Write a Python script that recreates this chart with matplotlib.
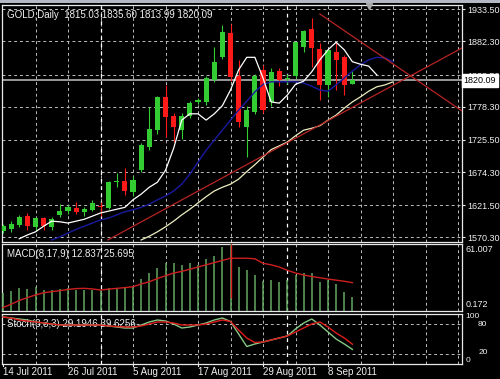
import matplotlib
matplotlib.use('Agg')
import matplotlib.pyplot as plt
import matplotlib.transforms as mtransforms
from matplotlib.patches import Rectangle
import numpy as np

plt.rcParams['font.family'] = ['Liberation Sans', 'DejaVu Sans']

# ---------------- data ----------------
date_labels = ['14 Jul 2011', '26 Jul 2011', '5 Aug 2011', '17 Aug 2011', '29 Aug 2011', '8 Sep 2011']
date_positions = [0, 8, 16, 24, 32, 40]

opens = [1580, 1584, 1590, 1604, 1586, 1601, 1587, 1606, 1612, 1617, 1611, 1613, 1620, 1617, 1658,
         1660, 1643, 1677, 1714, 1741, 1794, 1764, 1741, 1764, 1786, 1786, 1821, 1857, 1896, 1827,
         1746, 1770, 1837, 1786, 1835, 1822, 1827, 1874, 1902, 1870, 1813, 1866, 1858, 1815.03]
highs = [1591, 1596, 1606, 1609, 1603, 1603, 1603, 1623, 1621, 1627, 1619, 1630, 1627, 1660, 1673,
         1681, 1668, 1720, 1778, 1796, 1813, 1768, 1768, 1787, 1792, 1827, 1873, 1909, 1910, 1853,
         1780, 1830, 1845, 1840, 1840, 1830, 1882, 1900, 1920, 1880, 1869, 1881, 1861, 1835.60]
lows = [1577, 1578, 1586, 1582, 1580, 1582, 1582, 1602, 1608, 1607, 1605, 1612, 1605, 1615, 1650,
        1638, 1636, 1675, 1709, 1735, 1730, 1722, 1727, 1760, 1782, 1781, 1818, 1854, 1820, 1746,
        1698, 1766, 1768, 1780, 1812, 1815, 1824, 1866, 1842, 1789, 1794, 1805, 1797, 1813.99]
closes = [1588, 1592, 1603, 1588, 1601, 1588, 1600, 1612, 1618, 1610, 1616, 1625, 1619, 1658, 1660,
          1644, 1662, 1717, 1743, 1794, 1762, 1746, 1764, 1785, 1789, 1824, 1850, 1897, 1826, 1754,
          1773, 1827, 1773, 1834, 1821, 1824, 1881, 1899, 1872, 1813, 1868, 1853, 1813, 1820.09]

price_ticks = [1570.30, 1621.50, 1674.30, 1725.50, 1778.30, 1828.50, 1882.30, 1933.50]
last_price = 1820.09
title_text = 'GOLD,Daily  1815.03 1835.60 1813.99 1820.09'

white_ma_start = 2
white_ma = [1568, 1574, 1579, 1588, 1596, 1595, 1593, 1596, 1599, 1604, 1609, 1612, 1615, 1618,
            1630, 1639, 1650, 1658, 1677, 1712, 1757, 1767, 1767, 1757, 1767, 1780, 1805, 1837,
            1857, 1857, 1824, 1786, 1784, 1797, 1814, 1819, 1834, 1853, 1869, 1881, 1869, 1850,
            1846, 1843, 1829]
blue_ma_start = 6
blue_ma = [1566, 1571, 1577, 1583, 1588, 1593, 1598, 1601, 1606, 1611, 1614, 1618, 1623, 1630,
           1636, 1644, 1655, 1671, 1690, 1709, 1725, 1741, 1757, 1773, 1787, 1802, 1814, 1818,
           1818, 1818, 1818, 1816, 1811, 1805, 1803, 1813, 1824, 1835, 1845, 1853, 1857, 1856, 1850]
cream_ma_start = 17
cream_ma = [1566, 1572, 1579, 1587, 1596, 1606, 1615, 1625, 1635, 1644, 1650, 1655, 1663, 1675,
            1686, 1698, 1710, 1716, 1722, 1732, 1741, 1744, 1748, 1757, 1765, 1776, 1786, 1794,
            1803, 1810, 1813, 1818]

trend_up_x = [12.9, 56.5]
trend_up_y = [1566, 1872]
trend_down_x = [39.0, 56.5]
trend_down_y = [1926, 1771.5]

macd_hist = [16.0, 18.1, 20.5, 19.6, 21.5, 19.0, 19.0, 19.6, 20.5, 19.0, 19.0, 19.0, 19.0, 21.1,
             21.1, 22.0, 22.0, 28.7, 34.2, 39.4, 43.4, 43.4, 41.8, 43.4, 41.8, 47.0, 50.3, 58.0,
             61.0, 40.3, 37.3, 32.7, 27.5, 28.1, 26.6, 28.1, 32.7, 34.2, 34.2, 26.6, 28.1, 24.2,
             17.4, 12.837]
macd_signal = [3, 6, 9.5, 12, 14.5, 16.5, 17.5, 18.4, 19.5, 20.3, 20.5, 20, 19, 19.8, 20.5, 21.2,
               22, 24.5, 26.5, 29.5, 32, 34.5, 36, 38, 40, 42, 44, 46, 48, 48, 48, 47.5, 43.4, 42,
               40, 37, 34.5, 32.7, 31.3, 30.2, 29, 28, 27, 25.695]
macd_max, macd_min = 61.007, -0.172
macd_mark_idx = 28
macd_mark_low = 11.7

stoch_k = [94, 92, 90, 88, 84, 82, 80, 78, 78, 78, 78, 78, 78, 76, 74, 72, 72, 78, 84, 88, 86, 80,
           72, 74, 78, 82, 88, 92, 85, 60, 35, 40, 44, 48, 52, 56, 70, 82, 90, 78, 64, 50, 40,
           29.1946]
stoch_d = [94, 92, 88, 86, 84, 82, 80, 78, 78, 78, 78, 78, 78, 76, 75, 74, 74, 76, 80, 84, 84, 82,
           78, 78, 78, 80, 84, 88, 85, 68, 52, 43, 44, 48, 52, 56, 64, 72, 80, 84, 74, 62, 52,
           39.6256]
stoch_levels = [20, 80]

separators = [12, 35]
grid_x = list(range(4, 57, 4))
shift_marker_idx = 45

# ---------------- style ----------------
BG = 'black'
TXT = '#f0f0f0'
GRID = '#bdbdbd'
UP = '#33cc33'
DN = '#ff1a1a'
W, H = 500, 379
XL = (-0.123, 56.49)
FS = 7
FS_AX = 6.5

fig = plt.figure(figsize=(W / 100, H / 100), dpi=100, facecolor=BG)


def rect(x0, y0, x1, y1):
    return [x0 / W, 1 - y1 / H, (x1 - x0) / W, (y1 - y0) / H]


ax = fig.add_axes(rect(2, 5, 462, 242))
axm = fig.add_axes(rect(2, 244, 462, 311))
axs = fig.add_axes(rect(2, 313.5, 462, 364))

for a in (ax, axm, axs):
    a.set_facecolor(BG)
    for s in a.spines.values():
        s.set_color('#e8e8e8')
        s.set_linewidth(0.9)
    a.set_xlim(*XL)
    a.set_xticks([])
    a.tick_params(axis='y', which='both', left=False, right=False, labelleft=False,
                  labelright=False)
    for g in grid_x:
        a.axvline(g, color=GRID, lw=0.7, ls=(0, (3, 3)), zorder=0)
    for sp in separators:
        a.axvline(sp, color='white', lw=0.9, ls=(0, (3, 3)), zorder=0)

# ---- main panel ----
x = np.arange(len(closes))
o = np.array(opens); c = np.array(closes); hi = np.array(highs); lo = np.array(lows)
cols = np.where(c >= o, UP, DN)
ax.set_ylim(1562.8, 1940.35)
for p in price_ticks:
    ax.axhline(p, color=GRID, lw=0.7, ls=(0, (3, 3)), zorder=0)
ax.axhline(last_price, color='#9a9a9a', lw=1.4, zorder=1)

ax.vlines(x, lo, hi, colors=cols, lw=0.8, zorder=3)
ax.bar(x, np.maximum(np.abs(c - o), 1.2), bottom=np.minimum(o, c), width=0.62,
       color=cols, zorder=4, linewidth=0)

ax.plot(np.arange(cream_ma_start, cream_ma_start + len(cream_ma)), cream_ma,
        color='#eeeec0', lw=0.9, zorder=5)
ax.plot(np.arange(blue_ma_start, blue_ma_start + len(blue_ma)), blue_ma,
        color='#1a1aa0', lw=1.0, zorder=5)
ax.plot(np.arange(white_ma_start, white_ma_start + len(white_ma)), white_ma,
        color='white', lw=0.9, zorder=5)
ax.plot(trend_up_x, trend_up_y, color='#b82424', lw=0.9, zorder=5)
ax.plot(trend_down_x, trend_down_y, color='#b82424', lw=0.9, zorder=5)

ax.yaxis.tick_right()
ax.set_yticks(price_ticks)
ax.set_yticklabels(['%.2f' % p for p in price_ticks])
ax.tick_params(axis='y', right=True, labelright=True, length=2.5, width=0.8, color='#e8e8e8',
               labelcolor=TXT, labelsize=FS_AX, pad=1)

btrans = mtransforms.blended_transform_factory(ax.transAxes, ax.transData)
ax.text(1.003, last_price, '1820.09', transform=btrans, ha='left', va='center', fontsize=FS_AX,
        color='black', zorder=10,
        bbox=dict(boxstyle='square,pad=0.2', facecolor='white', edgecolor='white'))
ax.text(0.011, 0.958, title_text, transform=ax.transAxes, ha='left', va='center', fontsize=FS,
        color=TXT)
strans = mtransforms.blended_transform_factory(ax.transData, ax.transAxes)
ax.plot([shift_marker_idx], [0.995], marker='v', ms=5, color='#a8a8a8', transform=strans,
        clip_on=False, zorder=6)

# ---- MACD panel ----
axm.set_ylim(macd_min, macd_max)
axm.vlines(x, 0, macd_hist, colors='#62a862', lw=1.1, zorder=3)
axm.plot(x, macd_signal, color='#cc2020', lw=1.0, zorder=4)
axm.vlines(macd_mark_idx, macd_mark_low, macd_max, colors='#e02020', lw=1.0, zorder=4)
axm.text(0.011, 0.85, 'MACD(8,17,9) 12.837 25.695', transform=axm.transAxes, ha='left',
         va='center', fontsize=FS, color=TXT)
axm.text(1.008, 0.92, '%.3f' % macd_max, transform=axm.transAxes, ha='left', va='center',
         fontsize=FS_AX, color=TXT)
axm.text(1.008, 0.09, '%.3f' % abs(macd_min), transform=axm.transAxes, ha='left', va='center',
         fontsize=FS_AX, color=TXT)

# ---- Stochastic panel ----
axs.set_ylim(0, 101)
for lv in stoch_levels:
    axs.axhline(lv, color=GRID, lw=0.7, ls=(0, (3, 3)), zorder=0)
axs.plot(x, stoch_d, color='#e01c1c', lw=1.0, zorder=4)
axs.plot(x, stoch_k, color='#86c886', lw=1.0, zorder=3)
axs.text(0.011, 0.80, 'Stoch(8,3,3) 29.1946 39.6256', transform=axs.transAxes, ha='left',
         va='center', fontsize=FS, color=TXT, zorder=2)
axs.text(1.008, 1.0, '100', transform=axs.transAxes, ha='left', va='top', fontsize=6,
         color=TXT)
axs.text(1.035, 0.78, '80', transform=axs.transAxes, ha='left', va='center', fontsize=6,
         color=TXT)
axs.text(1.035, 0.22, '20', transform=axs.transAxes, ha='left', va='center', fontsize=6,
         color=TXT)
axs.text(1.008, 0.0, '0', transform=axs.transAxes, ha='left', va='bottom', fontsize=6,
         color=TXT)

dtrans = mtransforms.blended_transform_factory(axs.transData, axs.transAxes)
for pos, lab in zip(date_positions, date_labels):
    axs.text(pos, -0.16, lab, transform=dtrans, ha='left', va='center', fontsize=FS, color=TXT)
    axs.plot([pos, pos], [0, -0.04], transform=dtrans, color='#e8e8e8', lw=0.8, clip_on=False)

# window frame at top
fig.patches.append(Rectangle((0, 1 - 3 / H), 1, 3 / H, transform=fig.transFigure,
                             facecolor='#b4b8c4', edgecolor='none'))

fig.savefig('out.png', dpi=100, facecolor=BG)
